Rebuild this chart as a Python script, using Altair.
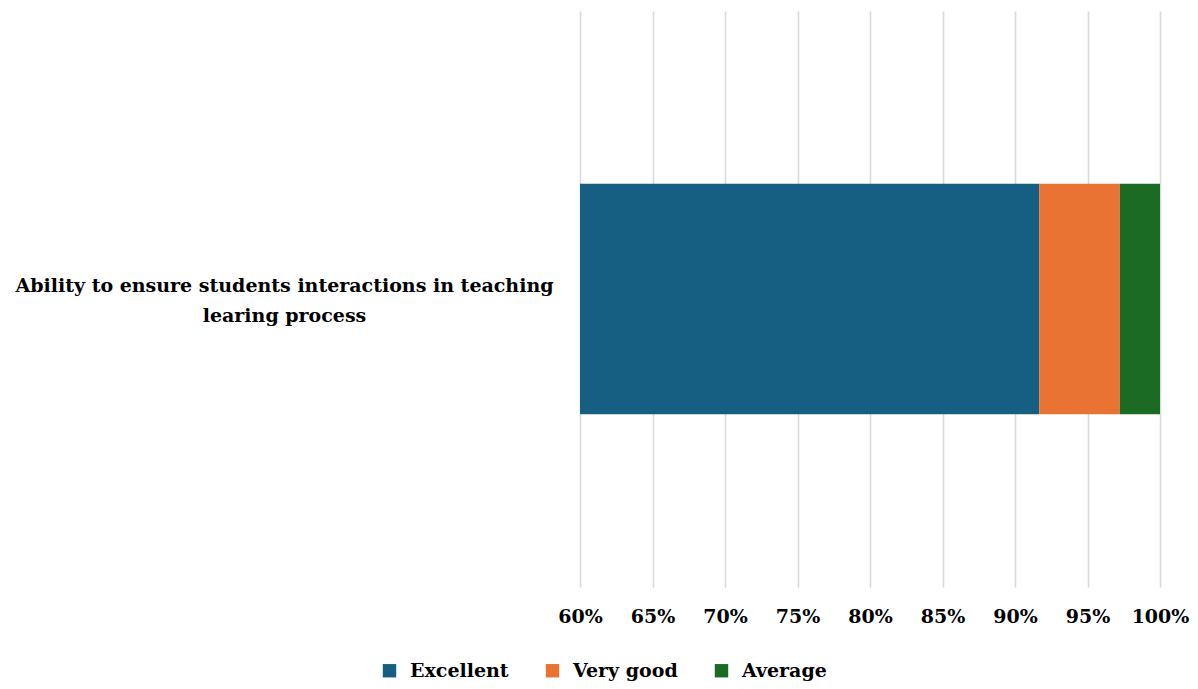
import altair as alt
import pandas as pd

category = ["Ability to ensure students interactions in teaching|learing process"]
series = ["Excellent", "Very good", "Average"]
values = [91.67, 5.56, 2.77]
colors = ["#175F82", "#E97333", "#1C6B24"]
tick_values = [60, 65, 70, 75, 80, 85, 90, 95, 100]

df = pd.DataFrame({
    "category": category * len(series),
    "series": series,
    "value": values,
    "order": list(range(len(series))),
})

FONT = "DejaVu Serif"
FS = 19

chart = alt.Chart(df).mark_bar().encode(
    y=alt.Y("category:N", title=None,
            scale=alt.Scale(paddingInner=0, paddingOuter=0.75),
            axis=alt.Axis(domain=False, ticks=False, grid=False,
                          labelExpr="split(datum.label, '|')",
                          labelAlign="center", labelBaseline="middle",
                          labelPadding=296, labelLimit=1000, labelOffset=-13,
                          labelFont=FONT, labelFontWeight="bold",
                          labelFontSize=FS, labelLineHeight=30,
                          labelColor="#000000")),
    x=alt.X("value:Q", stack="zero", title=None,
            scale=alt.Scale(domain=[60, 100], clamp=True),
            axis=alt.Axis(values=tick_values, labelExpr="datum.value + '%'",
                          domain=False, ticks=False, grid=True,
                          gridColor="#D9D9D9", gridWidth=1.6,
                          labelFlush=False, labelOverlap=False,
                          labelPadding=20, labelFont=FONT, labelFontWeight="bold",
                          labelFontSize=FS, labelColor="#000000")),
    color=alt.Color("series:N", title=None,
                    scale=alt.Scale(domain=series, range=colors),
                    legend=alt.Legend(orient="none", legendX=-200, legendY=650,
                                      direction="horizontal", symbolType="square",
                                      symbolSize=180, symbolStrokeWidth=0,
                                      labelFont=FONT, labelFontWeight="bold",
                                      labelFontSize=FS, labelColor="#000000",
                                      labelOffset=11, columnPadding=34)),
    order=alt.Order("order:Q"),
).properties(
    width=580, height=576,
    autosize=alt.AutoSizeParams(type="none"),
    padding={"left": 572, "top": 3, "right": 30, "bottom": 94},
).configure_view(stroke=None)

chart.save("out.html", embed_options={"renderer": "svg", "actions": False})
